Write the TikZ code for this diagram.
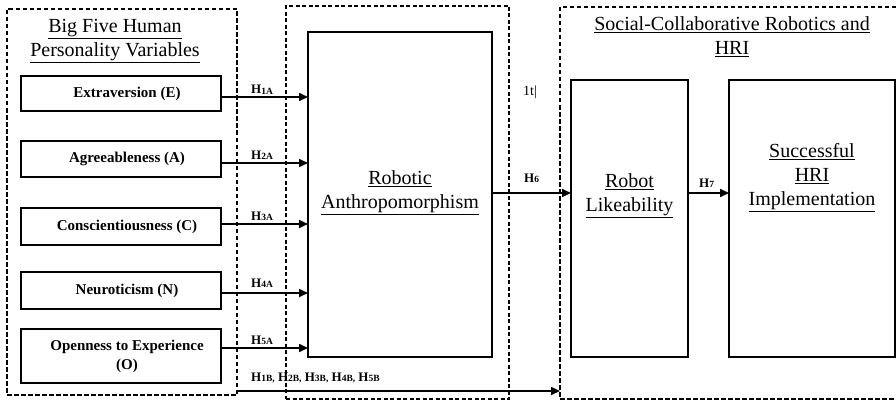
\documentclass[tikz,border=0pt]{standalone}
\usepackage{fontspec}
\setmainfont{Liberation Serif}
\usetikzlibrary{arrows.meta,calc}
\begin{document}
\begin{tikzpicture}[x=1pt,y=-1pt,
  grp/.style={draw, line width=1.8pt, dash pattern=on 4.5pt off 2.5pt, anchor=north west, outer sep=0pt, inner sep=0pt},
  grpthin/.style={grp, line width=1.3pt, dash pattern=on 4pt off 2.5pt},
  box/.style={draw, line width=1.6pt, anchor=north west, outer sep=0pt, inner sep=0pt},
  trait/.style={font=\bfseries\fontsize{15}{19}\selectfont, align=center, inner sep=0pt},
  big/.style={font=\fontsize{20}{24}\selectfont, align=center, inner sep=0pt},
  arr/.style={-{Triangle[length=9pt,width=8pt]}, line width=1.6pt},
  hlab/.style={font=\bfseries\fontsize{13}{14}\selectfont, anchor=base west, inner sep=0pt}
]
\useasboundingbox (0,0) rectangle (896,401);
\clip (0,0) rectangle (896,401);
\newcommand{\hs}[1]{\raisebox{-0.8pt}{\fontsize{9.5}{10}\selectfont #1}}

% group boxes
\node[grp, minimum width=230pt, minimum height=386pt] (G1) at (7,9) {};
\node[grpthin, minimum width=223pt, minimum height=393pt] (G2) at (286,6) {};
\node[grp, minimum width=350pt, minimum height=392pt] (G3) at (560,7) {};

% titles
\node[big] (T1) at (115,41) {\underline{Big Five Human}\\\underline{Personality Variables}};
\node[big] (T3) at (732,37) {\underline{Social-Collaborative Robotics and}\\\underline{HRI}};

% trait boxes
\node[box, minimum width=200pt, minimum height=35pt] (E) at (21,76) {};
\node[box, minimum width=200pt, minimum height=36pt] (A) at (21,141) {};
\node[box, minimum width=200pt, minimum height=37pt] (C) at (21,208) {};
\node[box, minimum width=200pt, minimum height=37pt] (N) at (21,272) {};
\node[box, minimum width=200pt, minimum height=54pt] (O) at (21,329) {};
\node[trait] (Et) at (127,93.5) {Extraversion (E)};
\node[trait] (At) at (127,159) {Agreeableness (A)};
\node[trait] (Ct) at (127,226.5) {Conscientiousness (C)};
\node[trait] (Nt) at (127,290.5) {Neuroticism (N)};
\node[trait] (Ot) at (127,356) {Openness to Experience\\(O)};

% main boxes
\node[box, minimum width=184pt, minimum height=325pt] (Anthro) at (308,32) {};
\node[box, minimum width=117pt, minimum height=277pt] (Like) at (571,80) {};
\node[box, minimum width=166pt, minimum height=277pt] (Succ) at (729,80) {};
\node[big] (Antt) at (400,193) {\underline{Robotic}\\\underline{Anthropomorphism}};
\node[big] (Likt) at (629.5,196) {\underline{Robot}\\\underline{Likeability}};
\node[big] (Suct) at (812,178) {\underline{Successful}\\\underline{HRI}\\\underline{Implementation}};

% trait arrows
\coordinate (e1) at ([yshift=-3.5pt]E.east);
\coordinate (a1) at ([yshift=-4pt]A.east);
\coordinate (c1) at ([yshift=2.5pt]C.east);
\coordinate (n1) at ([yshift=-2.5pt]N.east);
\coordinate (o1) at ([yshift=8pt]O.east);
\draw[arr] (e1) -- (e1 -| Anthro.west);
\draw[arr] (a1) -- (a1 -| Anthro.west);
\draw[arr] (c1) -- (c1 -| Anthro.west);
\draw[arr] (n1) -- (n1 -| Anthro.west);
\draw[arr] (o1) -- (o1 -| Anthro.west);
\node[hlab] (h1) at (251,94) {H\hs{1A}};
\node[hlab] (h2) at (251,159) {H\hs{2A}};
\node[hlab] (h3) at (251,220) {H\hs{3A}};
\node[hlab] (h4) at (251,287) {H\hs{4A}};
\node[hlab] (h5) at (251,344) {H\hs{5A}};

% H6, H7
\coordinate (s6) at ([yshift=1.5pt]Anthro.east);
\draw[arr] (s6) -- (s6 -| Like.west);
\node[hlab] (h6) at (524,182) {H\hs{6}};
\coordinate (s7) at ([yshift=25.5pt]Like.east);
\draw[arr] (s7) -- (s7 -| Succ.west);
\node[hlab] (h7) at (699,187) {H\hs{7}};

% stray text
\node[font=\fontsize{14}{15}\selectfont, anchor=base west, inner sep=0pt] (stray) at (523,96) {1t|};

% bottom arrow
\coordinate (bb) at (0,391);
\draw[arr] (bb -| G1.east) -- (bb -| G3.west);
\node[hlab] (hb) at (251,381) {H\hs{1B,} H\hs{2B,} H\hs{3B,} H\hs{4B,} H\hs{5B}};
\end{tikzpicture}
\end{document}
